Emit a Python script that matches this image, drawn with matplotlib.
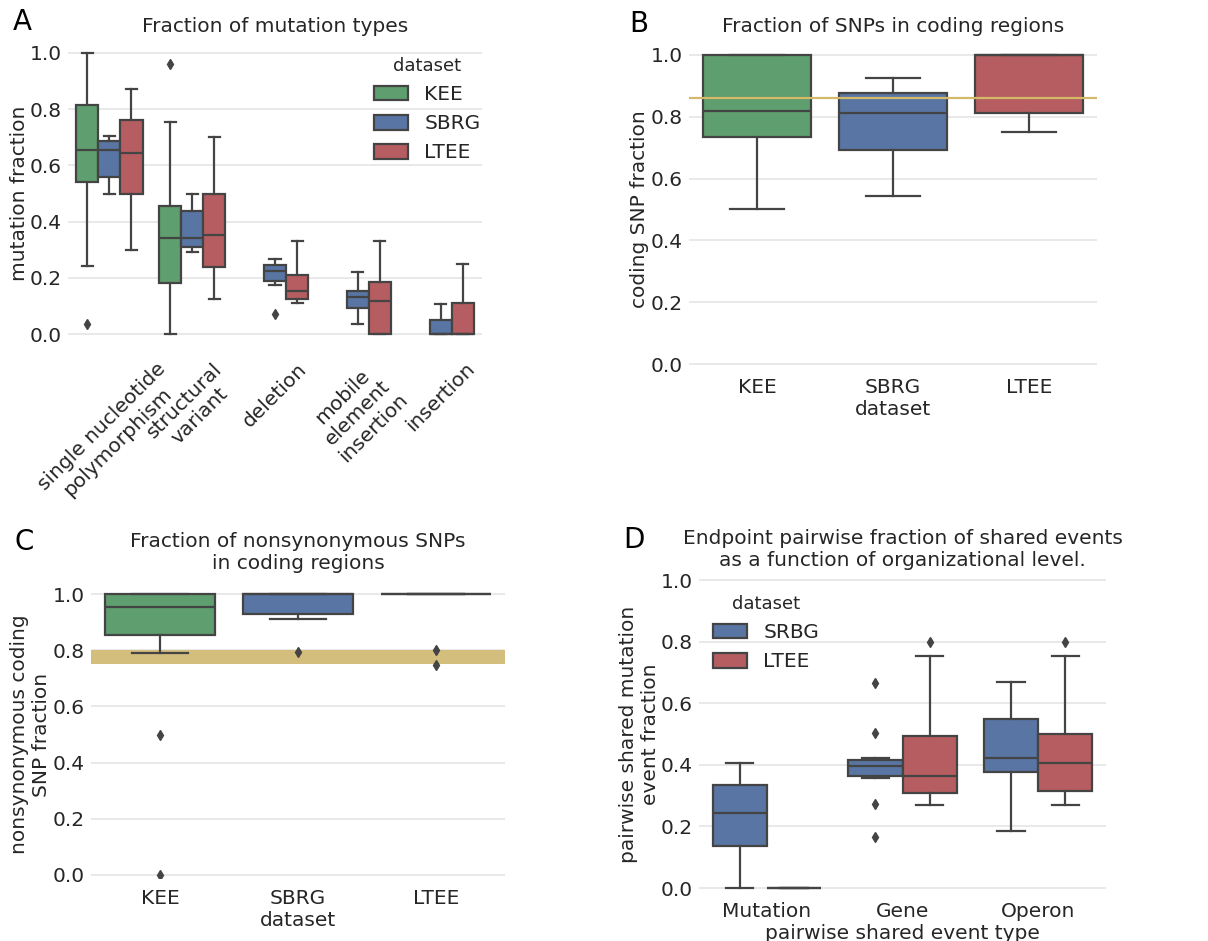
import colorsys
import matplotlib
matplotlib.use("Agg")
import matplotlib.pyplot as plt
import matplotlib.colors as mcolors
from matplotlib.patches import Patch

# Panel A: fraction of mutation types (whislo, q1, med, q3, whishi), None = no data
a_categories = ["single nucleotide\npolymorphism", "structural\nvariant", "deletion",
                "mobile\nelement\ninsertion", "insertion"]
a_datasets = ["KEE", "SBRG", "LTEE"]
a_kee = [(0.243, 0.540, 0.654, 0.814, 1.000),
         (0.000, 0.181, 0.343, 0.454, 0.753),
         None, None, None]
a_sbrg = [(0.500, 0.558, 0.654, 0.686, 0.706),
          (0.293, 0.311, 0.343, 0.437, 0.500),
          (0.173, 0.187, 0.224, 0.247, 0.268),
          (0.037, 0.094, 0.130, 0.152, 0.221),
          (0.000, 0.000, 0.000, 0.050, 0.107)]
a_ltee = [(0.300, 0.498, 0.644, 0.760, 0.873),
          (0.125, 0.237, 0.352, 0.500, 0.700),
          (0.110, 0.123, 0.154, 0.210, 0.332),
          (0.000, 0.000, 0.116, 0.185, 0.332),
          (0.000, 0.000, 0.000, 0.109, 0.249)]
a_kee_fliers = [[0.037], [0.961], [], [], []]
a_sbrg_fliers = [[], [], [0.071], [], []]
a_ltee_fliers = [[], [], [], [], []]

# Panel B: coding SNP fraction
b_datasets = ["KEE", "SBRG", "LTEE"]
b_stats = [(0.501, 0.736, 0.820, 1.000, 1.000),
           (0.543, 0.694, 0.811, 0.877, 0.927),
           (0.751, 0.812, 1.000, 1.000, 1.000)]
b_fliers = [[], [], []]
b_reference = 0.861

# Panel C: nonsynonymous coding SNP fraction
c_datasets = ["KEE", "SBRG", "LTEE"]
c_stats = [(0.789, 0.853, 0.955, 1.000, 1.000),
           (0.911, 0.930, 1.000, 1.000, 1.000),
           (1.000, 1.000, 1.000, 1.000, 1.000)]
c_fliers = [[0.5, 0.0], [0.795], [0.80, 0.749]]
c_band = (0.75, 0.80)

# Panel D: pairwise shared events
d_categories = ["Mutation", "Gene", "Operon"]
d_datasets = ["SRBG", "LTEE"]
d_srbg = [(0.000, 0.137, 0.244, 0.336, 0.405),
          (0.357, 0.364, 0.397, 0.415, 0.423),
          (0.186, 0.377, 0.423, 0.548, 0.668)]
d_ltee = [(0.000, 0.000, 0.000, 0.000, 0.000),
          (0.268, 0.307, 0.365, 0.492, 0.754),
          (0.268, 0.314, 0.406, 0.499, 0.754)]
d_srbg_fliers = [[], [0.667, 0.503, 0.273, 0.166], []]
d_ltee_fliers = [[], [0.80], [0.80]]


def desat(c, prop=0.75):
    r, g, b = mcolors.to_rgb(c)
    h, l, s = colorsys.rgb_to_hls(r, g, b)
    return colorsys.hls_to_rgb(h, l, s * prop)


GREEN = desat("#55A868")
BLUE = desat("#4C72B0")
RED = desat("#C44E52")
EDGE = "#444444"
YELLOW = "#d4b96a"
BAND = "#d3be7e"
FS = 14.5
LW = 1.6

plt.rcParams.update({"font.family": "DejaVu Sans", "font.size": FS,
                     "text.color": "#262626", "axes.labelcolor": "#262626",
                     "xtick.color": "#262626", "ytick.color": "#262626"})

W, H = 1208, 941
fig = plt.figure(figsize=(W / 100, H / 100), dpi=100)


def make_axes(xl, xr, y0, y1, lo, hi, label_right):
    # y0 / y1: pixel row of value 0 and 1, label_right: pixel column of y label's right edge
    p = y0 - y1
    bottom = 1 - (y0 - lo * p) / H
    height = (hi - lo) * p / H
    ax = fig.add_axes([xl / W, bottom, (xr - xl) / W, height])
    ax.set_ylim(lo, hi)
    for s in ax.spines.values():
        s.set_visible(False)
    ax.yaxis.grid(True, color="#e3e3e3", lw=1.1, zorder=0)
    ax.set_axisbelow(True)
    ax.tick_params(axis="y", length=0, pad=4.5)
    ax.tick_params(axis="x", length=0, pad=8)
    ax.set_yticks([0, 0.2, 0.4, 0.6, 0.8, 1.0])
    ax.set_yticklabels(["0.0", "0.2", "0.4", "0.6", "0.8", "1.0"])
    ax.yaxis.set_label_coords((label_right - xl) / (xr - xl), 0.5)
    return ax


def draw(ax, stats, fliers, positions, width, colors):
    for st, fl, p, col in zip(stats, fliers, positions, colors):
        if st is None:
            continue
        lo, q1, med, q3, hi = st
        item = dict(whislo=lo, q1=q1, med=med, q3=q3, whishi=hi, fliers=fl)
        ax.bxp([item], positions=[p], widths=width, patch_artist=True, manage_ticks=False,
               boxprops=dict(facecolor=col, edgecolor=EDGE, lw=LW),
               medianprops=dict(color=EDGE, lw=LW),
               whiskerprops=dict(color=EDGE, lw=LW),
               capprops=dict(color=EDGE, lw=LW),
               flierprops=dict(marker="d", markerfacecolor=EDGE, markeredgecolor=EDGE,
                               markersize=5))


def legend(ax, colors, labels, anchor, loc):
    ax.legend([Patch(facecolor=c, edgecolor=EDGE, lw=LW) for c in colors], labels,
              title="dataset", title_fontsize=13, frameon=False, loc=loc,
              bbox_to_anchor=anchor, handlelength=1.7, handleheight=0.75)


# ---- Panel A
axA = make_axes(68, 482, 334, 53, -0.05, 1.05, 29)
axA.set_xlim(-0.5, 4.5)
w = 0.8 / 3
n = len(a_categories)
for k, (st, fl, col) in enumerate(zip([a_kee, a_sbrg, a_ltee],
                                      [a_kee_fliers, a_sbrg_fliers, a_ltee_fliers],
                                      [GREEN, BLUE, RED])):
    draw(axA, st, fl, [i + (k - 1) * w for i in range(n)], w, [col] * n)
axA.set_xticks(range(n))
axA.set_xticklabels(a_categories, rotation=45)
axA.set_ylabel("mutation fraction")
axA.set_title("Fraction of mutation types", fontsize=FS, pad=5)
legend(axA, [GREEN, BLUE, RED], a_datasets, (1.04, 1.0), "upper right")

# ---- Panel B
axB = make_axes(689, 1097, 364, 55, -0.01, 1.01, 649)
axB.set_xlim(-0.5, 2.5)
draw(axB, b_stats, b_fliers, range(3), 0.8, [GREEN, BLUE, RED])
axB.axhline(b_reference, color=YELLOW, lw=1.6, zorder=5)
axB.set_xticks(range(3))
axB.set_xticklabels(b_datasets)
axB.set_xlabel("dataset", labelpad=2)
axB.set_ylabel("coding SNP fraction")
axB.set_title("Fraction of SNPs in coding regions", fontsize=FS, pad=14)

# ---- Panel C
axC = make_axes(91, 505, 875, 594, -0.01, 1.01, 51)
axC.set_xlim(-0.5, 2.5)
axC.axhspan(c_band[0], c_band[1], color=BAND, lw=0, zorder=1)
draw(axC, c_stats, c_fliers, range(3), 0.8, [GREEN, BLUE, RED])
axC.set_xticks(range(3))
axC.set_xticklabels(c_datasets)
axC.set_xlabel("dataset", labelpad=2)
axC.set_ylabel("nonsynonymous coding\nSNP fraction")
axC.set_title("Fraction of nonsynonymous SNPs\nin coding regions", fontsize=FS, pad=16)

# ---- Panel D
axD = make_axes(699, 1106, 888, 580, -0.01, 1.01, 660)
axD.set_xlim(-0.5, 2.5)
w = 0.4
draw(axD, d_srbg, d_srbg_fliers, [i - w / 2 for i in range(3)], w, [BLUE] * 3)
draw(axD, d_ltee, d_ltee_fliers, [i + w / 2 for i in range(3)], w, [RED] * 3)
axD.set_xticks(range(3))
axD.set_xticklabels(d_categories)
axD.set_xlabel("pairwise shared event type", labelpad=2)
axD.set_ylabel("pairwise shared mutation\nevent fraction")
axD.set_title("Endpoint pairwise fraction of shared events\nas a function of organizational level.",
              fontsize=FS, pad=8)
legend(axD, [BLUE, RED], d_datasets, (-0.01, 1.0), "upper left")

# panel letters
for lab, x, y in [("A", 22, 22), ("B", 639, 24), ("C", 24, 542), ("D", 634, 540)]:
    fig.text(x / W, 1 - y / H, lab, fontsize=20, ha="center", va="center", color="black")

fig.savefig("out.png", dpi=100, facecolor="white")
